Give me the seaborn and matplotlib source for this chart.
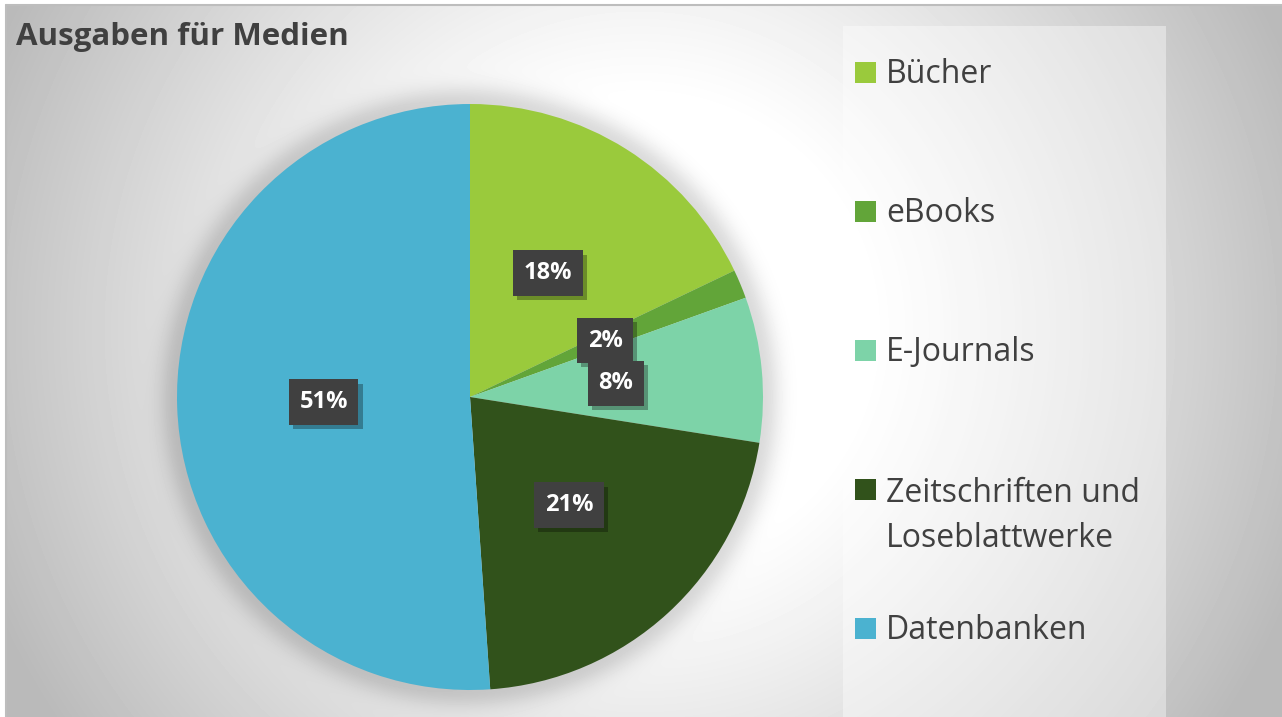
import numpy as np
import matplotlib.pyplot as plt
import matplotlib.patheffects as pe
import seaborn as sns
from matplotlib.patches import Rectangle

kategorien = ['Bücher', 'eBooks', 'E-Journals', 'Zeitschriften und\nLoseblattwerke', 'Datenbanken']
anteile = [17.9, 1.6, 8.0, 21.4, 51.1]
farben = ['#9aca3c', '#62a539', '#7dd3a8', '#31521b', '#4bb2d0']
titel = 'Ausgaben für Medien'

sns.set_theme(style='white')
plt.rcParams['font.family'] = ['Open Sans', 'DejaVu Sans']

W, H = 1282, 717
fig = plt.figure(figsize=(W / 100, H / 100), dpi=100)
fig.patch.set_facecolor('white')

# background with radial gradient and soft pie shadow (pixel coords)
bg = fig.add_axes([0, 0, 1, 1])
bg.set_xlim(0, W)
bg.set_ylim(H, 0)
bg.axis('off')

cx, cy, R = 470, 397, 293
yy, xx = np.mgrid[5:H, 6:W] + 0.5
d = np.hypot(xx - 640, yy - 330)
val = 1 - 0.27 * np.clip((d - 230) / 470, 0, 1) ** 1.1
rp = np.hypot(xx - cx, yy - cy)
val -= 0.14 * np.exp(-(np.maximum(rp - R, 0) / 18) ** 2)
bg.imshow(val, cmap='gray', vmin=0, vmax=1, extent=[6, W, H, 5],
          interpolation='bilinear', aspect='auto', zorder=0)
bg.add_patch(Rectangle((843, 26), 1166 - 843, H - 26, facecolor='white',
                       alpha=0.4, edgecolor='none', zorder=1))
bg.plot([6, 6], [5, H], color='#bdbdbd', lw=1.5, zorder=2)
bg.plot([6, W], [5, 5], color='#bdbdbd', lw=1.5, zorder=2)

fig.text(16 / W, 1 - 45 / H, titel, fontsize=22.5, fontweight='bold',
         color='#404040', va='baseline')

# legend
for i, (k, c) in enumerate(zip(kategorien, farben)):
    yc = 72 + 139 * i
    n = k.count('\n')
    bg.add_patch(Rectangle((855, yc - 10.5), 21, 21, facecolor=c,
                           edgecolor='none', zorder=3))
    bg.text(886, yc + 11 + 47 * n, k, fontsize=23, color='#404040',
            va='baseline', linespacing=1.5, zorder=3)

# pie
ax = fig.add_axes([(cx - R) / W, (H - cy - R) / H, 2 * R / W, 2 * R / H])
wedges, texts, autotexts = ax.pie(
    anteile, colors=farben, startangle=90, counterclock=False,
    autopct=lambda p: f'{p:.0f}%', pctdistance=0.5,
    wedgeprops=dict(linewidth=0))
ax.set_xlim(-1, 1)
ax.set_ylim(-1, 1)
ax.set_facecolor('none')

for t in autotexts:
    t.set_color('white')
    t.set_fontweight('bold')
    t.set_fontsize(17)
    t.set_bbox(dict(boxstyle='square,pad=0.45', facecolor='#404040',
                    edgecolor='none', linewidth=0))
    t.get_bbox_patch().set_path_effects([
        pe.SimplePatchShadow(offset=(3, -3), shadow_rgbFace='black', alpha=0.3),
        pe.Normal()])

fig.savefig('out.png', dpi=100)
